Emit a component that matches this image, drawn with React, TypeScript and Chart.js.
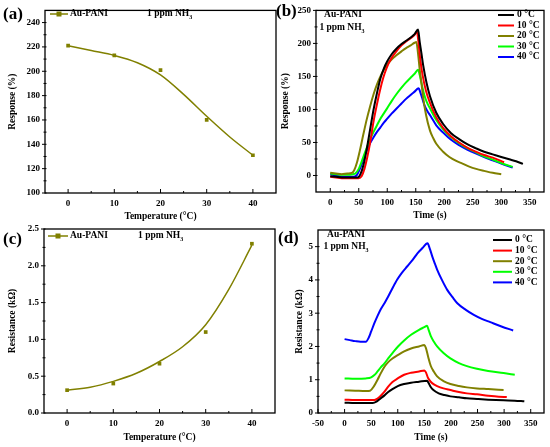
import React, { useEffect, useRef } from 'react';
import { Chart, registerables } from 'chart.js';

Chart.register(...registerables);

const FONT = "'Liberation Serif', 'Times New Roman', serif";
const OLIVE = '#808000';
const C_BLACK = '#000000';
const C_RED = '#ff0000';
const C_OLIVE = '#808000';
const C_GREEN = '#00ff00';
const C_BLUE = '#0000ff';

// ---------- (a) Response vs temperature ----------
const tempC = [0, 10, 20, 30, 40];
const responsePts = [221, 213, 201, 160, 131];
const responseFitT = [0, 5, 10, 15, 20, 25, 30, 35, 40];
const responseFit = [221, 217, 213, 207, 197, 181, 163, 146, 131];
const aXTicks = [0, 10, 20, 30, 40];
const aYTicks = [100, 120, 140, 160, 180, 200, 220, 240];

// ---------- (c) Resistance vs temperature ----------
const resistancePts = [0.31, 0.4, 0.67, 1.1, 2.3];
const resistanceFitT = [0, 5, 10, 15, 20, 25, 30, 35, 40];
const resistanceFit = [0.31, 0.35, 0.43, 0.54, 0.7, 0.9, 1.2, 1.68, 2.28];
const cYTicks = [0, 0.5, 1.0, 1.5, 2.0, 2.5];

// ---------- (b) Response transients ----------
const bT0 = [0, 10, 20, 30, 40, 48, 53, 58, 64, 70, 76, 82, 88, 94, 100, 108, 116, 125, 133, 141, 148, 154, 157, 160, 163, 169, 175, 186, 198, 212, 226, 241, 256, 270, 285, 300, 314, 326, 338];
const bR0 = [-1, -2, -3, -3, -3, -3, 2, 15, 40, 70, 100, 125, 147, 162, 173, 184, 192, 199, 204, 209, 214, 221, 202, 185, 167, 140, 120, 95, 78, 64, 55, 47, 41, 36, 32, 28, 24.5, 21.5, 17.5];
const bT10 = [0, 10, 20, 30, 40, 50, 55, 60, 65, 70, 76, 82, 87, 93, 99, 107, 116, 125, 133, 141, 148, 152, 155, 158, 162, 168, 175, 186, 198, 212, 226, 241, 256, 270, 285, 305];
const bR10 = [-2, -3, -4, -4, -4, -4, -1, 10, 28, 50, 82, 108, 128, 148, 163, 177, 188, 197, 203, 208, 213, 218, 200, 175, 152, 128, 110, 88, 72, 59, 50, 42, 36, 31, 27, 20];
const bT20 = [0, 10, 20, 30, 38, 42, 47, 52, 58, 64, 70, 76, 82, 88, 94, 100, 108, 116, 125, 133, 141, 148, 151, 154, 157, 160, 163, 168, 175, 181, 186, 198, 209, 221, 232, 245, 256, 270, 285, 300];
const bR20 = [4, 3, 2, 3, 4, 8, 20, 38, 62, 85, 105, 123, 138, 150, 160, 168, 176, 182, 188, 193, 197, 201, 202, 185, 160, 140, 118, 92, 68, 56, 48, 36, 28, 22, 18, 13, 10, 7, 4, 2];
const bT30 = [0, 10, 20, 30, 40, 44, 50, 58, 64, 70, 76, 82, 88, 94, 100, 108, 116, 125, 133, 141, 148, 154, 157, 160, 165, 170, 176, 186, 198, 212, 226, 241, 256, 270, 285, 300, 320];
const bR30 = [3, 2, 1, 1, 2, 3, 10, 28, 42, 55, 66, 76, 86, 94, 102, 113, 123, 133, 141, 148, 154, 160, 152, 140, 122, 110, 100, 84, 70, 58, 49, 41, 35, 29, 24, 19, 13];
const bT40 = [0, 10, 20, 30, 40, 46, 52, 58, 64, 70, 76, 82, 88, 94, 100, 108, 116, 125, 133, 141, 148, 155, 158, 161, 165, 170, 176, 186, 198, 212, 226, 241, 256, 270, 285, 300, 320];
const bR40 = [2, 0, -2, -2, -2, 0, 10, 24, 38, 49, 58, 66, 73, 80, 86, 94, 101, 109, 116, 122, 127, 132, 126, 118, 107, 98, 90, 76, 65, 54, 46, 39, 33, 28, 23, 18, 12];
const bXTicks = [0, 50, 100, 150, 200, 250, 300, 350];
const bYTicks = [0, 50, 100, 150, 200, 250];

// ---------- (d) Resistance transients ----------
const dT0 = [0, 20, 40, 53, 60, 67, 75, 82, 90, 100, 112, 125, 140, 155, 158, 162, 167, 177, 188, 199, 215, 230, 249, 270, 299, 320, 338];
const dR0 = [0.31, 0.3, 0.3, 0.3, 0.34, 0.43, 0.53, 0.63, 0.72, 0.81, 0.87, 0.91, 0.94, 0.97, 0.9, 0.78, 0.69, 0.59, 0.54, 0.5, 0.47, 0.44, 0.42, 0.4, 0.38, 0.37, 0.35];
const dT10 = [0, 20, 40, 56, 62, 68, 75, 82, 90, 100, 112, 125, 140, 150, 153, 157, 162, 168, 174, 186, 199, 215, 230, 249, 270, 290, 305];
const dR10 = [0.4, 0.39, 0.39, 0.39, 0.43, 0.52, 0.64, 0.79, 0.93, 1.04, 1.15, 1.21, 1.25, 1.28, 1.22, 1.05, 0.94, 0.86, 0.81, 0.74, 0.69, 0.63, 0.59, 0.56, 0.52, 0.49, 0.48];
const dT20 = [0, 20, 40, 48, 55, 62, 68, 75, 82, 90, 100, 112, 125, 140, 150, 153, 157, 162, 168, 174, 186, 199, 215, 230, 249, 270, 299];
const dR20 = [0.68, 0.67, 0.66, 0.67, 0.8, 1.0, 1.19, 1.39, 1.53, 1.64, 1.74, 1.85, 1.94, 2.0, 2.04, 1.95, 1.7, 1.42, 1.24, 1.1, 0.96, 0.87, 0.81, 0.77, 0.74, 0.72, 0.69];
const dT30 = [0, 20, 40, 50, 56, 62, 68, 75, 82, 90, 100, 112, 125, 140, 150, 155, 158, 162, 168, 174, 186, 199, 215, 230, 249, 270, 299, 320];
const dR30 = [1.04, 1.03, 1.04, 1.07, 1.14, 1.25, 1.37, 1.49, 1.64, 1.8, 1.99, 2.18, 2.35, 2.5, 2.58, 2.62, 2.5, 2.32, 2.14, 2.0, 1.8, 1.64, 1.5, 1.41, 1.33, 1.26, 1.2, 1.15];
const dT40 = [0, 10, 20, 30, 40, 45, 50, 56, 62, 68, 75, 82, 90, 99, 108, 118, 128, 137, 146, 156, 160, 165, 170, 174, 183, 193, 203, 212, 228, 243, 258, 274, 295, 317];
const dR40 = [2.22, 2.19, 2.16, 2.14, 2.14, 2.25, 2.45, 2.7, 2.92, 3.12, 3.3, 3.5, 3.75, 4.01, 4.22, 4.41, 4.6, 4.8, 4.95, 5.1, 4.95, 4.7, 4.48, 4.31, 4.0, 3.7, 3.48, 3.3, 3.1, 2.95, 2.83, 2.73, 2.6, 2.48];
const dXTicks = [-50, 0, 50, 100, 150, 200, 250, 300, 350];
const dYTicks = [0, 1, 2, 3, 4, 5];

const tempLabels = ['0 °C', '10 °C', '20 °C', '30 °C', '40 °C'];
const seriesColors = [C_BLACK, C_RED, C_OLIVE, C_GREEN, C_BLUE];

const pts = (xs: number[], ys: number[]) => xs.map((x, i) => ({ x, y: ys[i] }));

type Item =
  | { kind: 'text'; x: number; y: number; text: string; size: number; align?: 'left' | 'center'; sub?: string }
  | { kind: 'line'; x1: number; x2: number; y: number; color: string; width: number; marker?: boolean };

function annotPlugin(items: Item[]) {
  return {
    id: 'annot',
    afterDraw(chart: any) {
      const ctx: CanvasRenderingContext2D = chart.ctx;
      const a = chart.chartArea;
      ctx.save();
      // frame
      ctx.strokeStyle = '#000';
      ctx.lineWidth = 1.3;
      ctx.strokeRect(a.left, a.top, a.right - a.left, a.bottom - a.top);
      // ticks
      const xs = chart.scales.x;
      const ys = chart.scales.y;
      const minorOf = (scale: any) => {
        const maj = scale.ticks.map((t: any) => t.value);
        const step = maj[1] - maj[0];
        const out: number[] = [];
        for (let v = maj[0] - step / 2; v < scale.max; v += step) {
          if (v > scale.min && v < scale.max) out.push(v);
        }
        return { maj, out };
      };
      ctx.lineWidth = 1;
      const xm = minorOf(xs);
      ctx.beginPath();
      xm.maj.forEach((v: number) => {
        const px = xs.getPixelForValue(v);
        ctx.moveTo(px, a.bottom);
        ctx.lineTo(px, a.bottom - 4);
      });
      xm.out.forEach((v: number) => {
        const px = xs.getPixelForValue(v);
        ctx.moveTo(px, a.bottom);
        ctx.lineTo(px, a.bottom - 2);
      });
      const ym = minorOf(ys);
      ym.maj.forEach((v: number) => {
        const py = ys.getPixelForValue(v);
        ctx.moveTo(a.left - 3, py);
        ctx.lineTo(a.left + 1.5, py);
      });
      ym.out.forEach((v: number) => {
        const py = ys.getPixelForValue(v);
        ctx.moveTo(a.left - 1.5, py);
        ctx.lineTo(a.left + 1.5, py);
      });
      ctx.stroke();
      // annotations
      for (const it of items) {
        if (it.kind === 'line') {
          ctx.strokeStyle = it.color;
          ctx.lineWidth = it.width;
          ctx.beginPath();
          ctx.moveTo(it.x1, it.y);
          ctx.lineTo(it.x2, it.y);
          ctx.stroke();
          if (it.marker) {
            ctx.fillStyle = it.color;
            const m = (it.x1 + it.x2) / 2;
            ctx.fillRect(m - 2.5, it.y - 2.5, 5, 5);
          }
        } else {
          ctx.fillStyle = '#000';
          ctx.textBaseline = 'middle';
          ctx.textAlign = 'left';
          const f = `bold ${it.size}px ${FONT}`;
          const fs = `bold ${Math.round(it.size * 0.65)}px ${FONT}`;
          ctx.font = f;
          const w1 = ctx.measureText(it.text).width;
          let w2 = 0;
          if (it.sub) {
            ctx.font = fs;
            w2 = ctx.measureText(it.sub).width;
          }
          const x0 = it.align === 'center' ? it.x - (w1 + w2) / 2 : it.x;
          ctx.font = f;
          ctx.fillText(it.text, x0, it.y);
          if (it.sub) {
            ctx.font = fs;
            ctx.fillText(it.sub, x0 + w1, it.y + 3);
          }
        }
      }
      ctx.restore();
    },
  };
}

interface PanelCfg {
  pad: { left: number; top: number; right: number; bottom: number };
  yW: number;
  xH: number;
  xMin: number;
  xMax: number;
  yMin: number;
  yMax: number;
  xTicks: number[];
  yTicks: number[];
  yFmt: (v: number) => string;
  xTitle: string;
  yTitle: string;
  datasets: any[];
  items: Item[];
}

const tickFont = { family: FONT, size: 9, weight: 'bold' as const };
const titleFont = { family: FONT, size: 9.5, weight: 'bold' as const };

function buildConfig(p: PanelCfg): any {
  return {
    type: 'line',
    data: { datasets: p.datasets },
    options: {
      animation: false,
      responsive: false,
      maintainAspectRatio: false,
      events: [],
      layout: { padding: p.pad },
      plugins: { legend: { display: false }, tooltip: { enabled: false } },
      scales: {
        x: {
          type: 'linear',
          min: p.xMin,
          max: p.xMax,
          afterBuildTicks: (s: any) => {
            s.ticks = p.xTicks.map((v) => ({ value: v }));
          },
          afterFit: (s: any) => {
            s.height = p.xH;
          },
          grid: { display: false, drawTicks: false },
          border: { display: false },
          ticks: {
            color: '#000',
            font: tickFont,
            padding: 5,
            maxRotation: 0,
            autoSkip: false,
            callback: (v: any) => String(v),
          },
          title: { display: true, text: p.xTitle, color: '#000', font: titleFont, padding: 0 },
        },
        y: {
          type: 'linear',
          min: p.yMin,
          max: p.yMax,
          afterBuildTicks: (s: any) => {
            s.ticks = p.yTicks.map((v) => ({ value: v }));
          },
          afterFit: (s: any) => {
            s.width = p.yW;
          },
          grid: { display: false, drawTicks: false },
          border: { display: false },
          ticks: {
            color: '#000',
            font: tickFont,
            padding: 5,
            autoSkip: false,
            callback: (v: any) => p.yFmt(Number(v)),
          },
          title: { display: true, text: p.yTitle, color: '#000', font: titleFont, padding: 0 },
        },
      },
    },
    plugins: [annotPlugin(p.items)],
  };
}

const lineDs = (data: any[], color: string, width: number) => ({
  data,
  borderColor: color,
  backgroundColor: color,
  borderWidth: width,
  pointRadius: 0,
  cubicInterpolationMode: 'monotone',
  fill: false,
});

const pointDs = (data: any[], color: string) => ({
  data,
  showLine: false,
  borderColor: color,
  backgroundColor: color,
  pointStyle: 'rect',
  pointRadius: 2.6,
  pointBorderWidth: 0,
});

const transientLegend = (x1: number, x2: number, tx: number, y0: number, dy: number): Item[] => {
  const out: Item[] = [];
  tempLabels.forEach((lab, i) => {
    out.push({ kind: 'line', x1, x2, y: y0 + i * dy, color: seriesColors[i], width: 2 });
    out.push({ kind: 'text', x: tx, y: y0 + i * dy, text: lab, size: 9.5 });
  });
  return out;
};

const panels: PanelCfg[] = [
  {
    pad: { left: 7, top: 8, right: 274, bottom: 225 },
    yW: 38,
    xH: 29,
    xMin: -5,
    xMax: 45,
    yMin: 100,
    yMax: 250,
    xTicks: aXTicks,
    yTicks: aYTicks,
    yFmt: (v) => String(v),
    xTitle: 'Temperature (°C)',
    yTitle: 'Response (%)',
    datasets: [lineDs(pts(responseFitT, responseFit), OLIVE, 1.5), pointDs(pts(tempC, responsePts), OLIVE)],
    items: [
      { kind: 'text', x: 3, y: 15, text: '(a)', size: 17 },
      { kind: 'line', x1: 50, x2: 68, y: 14, color: OLIVE, width: 1.5, marker: true },
      { kind: 'text', x: 70, y: 14, text: 'Au-PANI', size: 9.5 },
      { kind: 'text', x: 147, y: 14, text: '1 ppm NH', sub: '3', size: 9.5 },
    ],
  },
  {
    pad: { left: 280, top: 7, right: 6, bottom: 226 },
    yW: 36,
    xH: 29,
    xMin: -25,
    xMax: 375,
    yMin: -25,
    yMax: 250,
    xTicks: bXTicks,
    yTicks: bYTicks,
    yFmt: (v) => String(v),
    xTitle: 'Time (s)',
    yTitle: 'Response (%)',
    datasets: [
      lineDs(pts(bT0, bR0), C_BLACK, 2),
      lineDs(pts(bT10, bR10), C_RED, 2),
      lineDs(pts(bT20, bR20), C_OLIVE, 2),
      lineDs(pts(bT30, bR30), C_GREEN, 2),
      lineDs(pts(bT40, bR40), C_BLUE, 2),
    ],
    items: [
      { kind: 'text', x: 276, y: 12, text: '(b)', size: 17 },
      { kind: 'text', x: 343, y: 15, text: 'Au-PANI', size: 9.5, align: 'center' },
      { kind: 'text', x: 342, y: 28, text: '1 ppm NH', sub: '3', size: 9.5, align: 'center' },
      ...transientLegend(498, 514, 517, 15, 10.5),
    ],
  },
  {
    pad: { left: 7, top: 229, right: 275, bottom: 4 },
    yW: 37,
    xH: 30,
    xMin: -5,
    xMax: 45,
    yMin: 0,
    yMax: 2.5,
    xTicks: aXTicks,
    yTicks: cYTicks,
    yFmt: (v) => v.toFixed(1),
    xTitle: 'Temperature (°C)',
    yTitle: 'Resistance (kΩ)',
    datasets: [lineDs(pts(resistanceFitT, resistanceFit), OLIVE, 1.5), pointDs(pts(tempC, resistancePts), OLIVE)],
    items: [
      { kind: 'text', x: 3, y: 240, text: '(c)', size: 17 },
      { kind: 'line', x1: 48, x2: 68, y: 236, color: OLIVE, width: 1.5, marker: true },
      { kind: 'text', x: 70, y: 236, text: 'Au-PANI', size: 9.5 },
      { kind: 'text', x: 138, y: 236, text: '1 ppm NH', sub: '3', size: 9.5 },
    ],
  },
  {
    pad: { left: 294, top: 230, right: 6, bottom: 4 },
    yW: 24,
    xH: 30,
    xMin: -50,
    xMax: 375,
    yMin: 0,
    yMax: 5.5,
    xTicks: dXTicks,
    yTicks: dYTicks,
    yFmt: (v) => String(v),
    xTitle: 'Time (s)',
    yTitle: 'Resistance (kΩ)',
    datasets: [
      lineDs(pts(dT0, dR0), C_BLACK, 2),
      lineDs(pts(dT10, dR10), C_RED, 2),
      lineDs(pts(dT20, dR20), C_OLIVE, 2),
      lineDs(pts(dT30, dR30), C_GREEN, 2),
      lineDs(pts(dT40, dR40), C_BLUE, 2),
    ],
    items: [
      { kind: 'text', x: 278, y: 239, text: '(d)', size: 17 },
      { kind: 'text', x: 346, y: 235, text: 'Au-PANI', size: 9.5, align: 'center' },
      { kind: 'text', x: 346, y: 247, text: '1 ppm NH', sub: '3', size: 9.5, align: 'center' },
      ...transientLegend(493, 512, 515, 240, 10.6),
    ],
  },
];

function Panel({ cfg }: { cfg: PanelCfg }) {
  const ref = useRef<HTMLCanvasElement | null>(null);
  useEffect(() => {
    if (!ref.current) return;
    const chart = new Chart(ref.current, buildConfig(cfg));
    return () => chart.destroy();
  }, [cfg]);
  return <canvas ref={ref} width={550} height={447} style={{ position: 'absolute', left: 0, top: 0 }} />;
}

export default function App() {
  return (
    <div style={{ position: 'fixed', left: 0, top: 0, width: 550, height: 447, background: '#fff', overflow: 'hidden' }}>
      {panels.map((p, i) => (
        <Panel key={i} cfg={p} />
      ))}
    </div>
  );
}
